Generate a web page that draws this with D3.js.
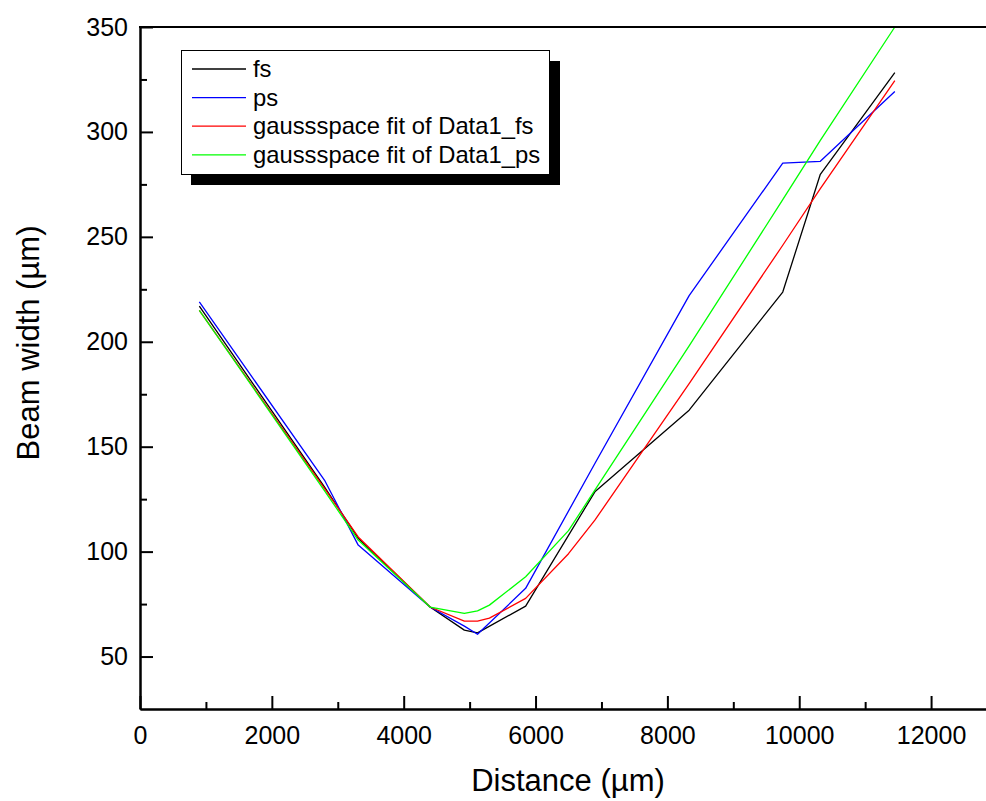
<!DOCTYPE html>
<html>
<head>
<meta charset="utf-8">
<script src="https://cdn.jsdelivr.net/npm/d3@7"></script>
<style>
  body { margin: 0; background: #fff; }
  text { font-family: "Liberation Sans", Arial, sans-serif; }
</style>
</head>
<body>
<div id="okvir"></div>
<script>
// 1. Podaci (procitano sa slike)
const mjereniX = [900, 2800, 3310, 4400, 4920, 5120, 5850, 6900, 8330, 9750, 10320, 11450]
const fsY = [217, 130.7, 106.4, 73.6, 62.6, 61.3, 74, 128.5, 167.4, 223.7, 279.8, 328.3]
const psY = [219, 134, 103.1, 73.6, 64.5, 60.6, 82.5, 142, 222, 285.1, 286, 319.3]

const fitX = [900, 2800, 3310, 4400, 4920, 5120, 5300, 5850, 6500, 6900, 8330, 9750, 10320, 11450]
const fitFsY = [215, 130, 107, 73.6, 66.9, 66.9, 68.3, 77.7, 99, 115, 180, 246, 273, 324.5]
const fitPsY = [215, 129, 105.5, 73.6, 70.6, 71.8, 74.5, 88, 110, 129.3, 198, 267.7, 296, 350]

const xTicks = [0, 2000, 4000, 6000, 8000, 10000, 12000]
const xMinor = [1000, 3000, 5000, 7000, 9000, 11000]
const yTicks = [50, 100, 150, 200, 250, 300, 350]
const yMinor = [75, 125, 175, 225, 275, 325]

const serije = [
  {name: "fs", xs: mjereniX, ys: fsY, color: "#000000"},
  {name: "ps", xs: mjereniX, ys: psY, color: "#0000ff"},
  {name: "gaussspace fit of Data1_fs", xs: fitX, ys: fitFsY, color: "#ff0000"},
  {name: "gaussspace fit of Data1_ps", xs: fitX, ys: fitPsY, color: "#00ff00"},
]

// 2. Dimenzije
const dimenzije = {
  sirina: 986,
  visina: 801,
  lijevo: 140,
  desno: 997,
  vrh: 27,
  dno: 709,
}

const okvir = d3.select("#okvir")
  .append("svg")
    .attr("width", dimenzije.sirina)
    .attr("height", dimenzije.visina)

// 3. Razmjeri
const xSkala = d3.scaleLinear()
  .domain([0, 13000])
  .range([dimenzije.lijevo, dimenzije.desno])

const ySkala = d3.scaleLinear()
  .domain([25, 350])
  .range([dimenzije.dno, dimenzije.vrh])

okvir.append("clipPath")
  .attr("id", "klip")
  .append("rect")
    .attr("x", dimenzije.lijevo)
    .attr("y", dimenzije.vrh - 1)
    .attr("width", dimenzije.desno - dimenzije.lijevo)
    .attr("height", dimenzije.dno - dimenzije.vrh + 1)

// 4. Linije
const lineGenerator = d3.line()
  .x(d => xSkala(d[0]))
  .y(d => ySkala(d[1]))

okvir.append("g")
  .attr("clip-path", "url(#klip)")
  .selectAll("path")
  .data(serije)
  .join("path")
    .attr("d", s => lineGenerator(s.xs.map((x, i) => [x, s.ys[i]])))
    .attr("fill", "none")
    .attr("stroke", s => s.color)
    .attr("stroke-width", 1.3)
    .attr("stroke-linejoin", "round")

// 5. Osi
const xOs = okvir.append("g")
  .attr("transform", `translate(0, ${dimenzije.dno})`)
  .call(d3.axisBottom(xSkala).tickValues(xTicks).tickFormat(d3.format("d"))
    .tickSize(-13).tickSizeOuter(0).tickPadding(17))
xOs.append("g")
  .call(d3.axisBottom(xSkala).tickValues(xMinor).tickSize(-7).tickSizeOuter(0).tickFormat(""))

const yOs = okvir.append("g")
  .attr("transform", `translate(${dimenzije.lijevo}, 0)`)
  .call(d3.axisLeft(ySkala).tickValues(yTicks).tickFormat(d3.format("d"))
    .tickSize(-13).tickSizeOuter(0).tickPadding(12))
yOs.append("g")
  .call(d3.axisLeft(ySkala).tickValues(yMinor).tickSize(-7).tickSizeOuter(0).tickFormat(""))

okvir.selectAll(".domain, .tick line")
  .attr("stroke", "#000")
  .attr("stroke-width", 2)
okvir.selectAll(".tick text")
  .attr("fill", "#000")
  .style("font-size", "25px")

// gornja linija
okvir.append("line")
  .attr("x1", dimenzije.lijevo - 1)
  .attr("x2", dimenzije.desno)
  .attr("y1", dimenzije.vrh)
  .attr("y2", dimenzije.vrh)
  .attr("stroke", "#000")
  .attr("stroke-width", 2)

// naslovi osi
okvir.append("text")
  .attr("x", 568)
  .attr("y", 791)
  .attr("text-anchor", "middle")
  .style("font-size", "31px")
  .text("Distance (µm)")

okvir.append("text")
  .attr("transform", "translate(39, 343) rotate(-90)")
  .attr("text-anchor", "middle")
  .style("font-size", "31px")
  .text("Beam width (µm)")

// 6. Legenda
const legenda = okvir.append("g")
legenda.append("rect")
  .attr("x", 191).attr("y", 61)
  .attr("width", 369).attr("height", 124)
  .attr("fill", "#000")
legenda.append("rect")
  .attr("x", 181.5).attr("y", 50.5)
  .attr("width", 368).attr("height", 124)
  .attr("fill", "#fff")
  .attr("stroke", "#000")
  .attr("stroke-width", 1)

legenda.selectAll("g")
  .data(serije)
  .join("g")
  .each(function(d, i) {
    const g = d3.select(this)
    const y = 69 + i * 28.6
    g.append("line")
      .attr("x1", 192).attr("x2", 246)
      .attr("y1", y).attr("y2", y)
      .attr("stroke", d.color)
      .attr("stroke-width", 1.3)
    g.append("text")
      .attr("x", 253)
      .attr("y", y + 8)
      .style("font-size", "23.8px")
      .text(d.name)
  })
</script>
</body>
</html>
